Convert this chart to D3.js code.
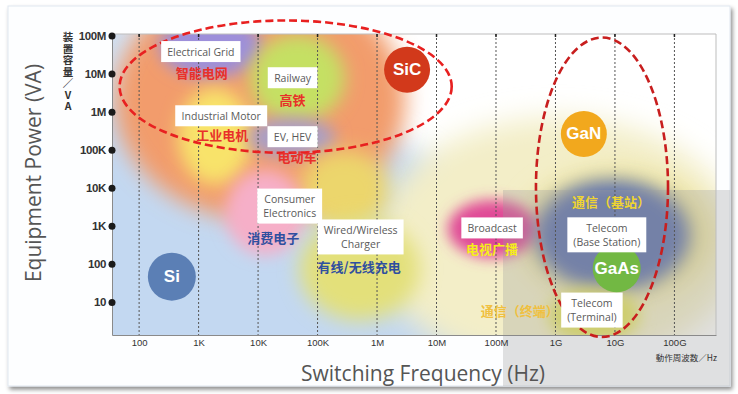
<!DOCTYPE html>
<html>
<head>
<meta charset="utf-8">
<script src="https://cdn.jsdelivr.net/npm/d3@7"></script>
<style>
  body { margin: 0; background: #ffffff; }
  svg { display: block; font-family: "Open Sans", "Noto Sans", sans-serif; }
</style>
</head>
<body>
<svg id="chart" width="738" height="394"></svg>
<script>
"use strict"

// axis ticks
var freqTicks = [1e2, 1e3, 1e4, 1e5, 1e6, 1e7, 1e8, 1e9, 1e10, 1e11];
var freqLabels = ["100", "1K", "10K", "100K", "1M", "10M", "100M", "1G", "10G", "100G"];
var powerTicks = [1e1, 1e2, 1e3, 1e4, 1e5, 1e6, 1e7, 1e8];
var powerLabels = ["10", "100", "1K", "10K", "100K", "1M", "10M", "100M"];

// application areas: [low, high] of frequency (Hz) and of power (VA)
var areaNames = ["Si", "Pale", "BaseHalo", "SiC", "Grid", "Motor", "Railway", "EV", "Drive", "Consumer", "Charger", "Broadcast", "Base", "Terminal"];
var areaFreq = [[0.01, 2e8], [9.2e5, 1.3e12], [2.5e8, 4.3e11], [39, 3e6], [220, 1.16e4], [450, 7.9e3], [7.3e3, 2.9e5], [6.7e3, 2e5], [5e4, 1.6e6], [2.8e3, 6.1e4], [5e4, 5.3e6], [1.55e7, 5e8], [4.5e8, 1.8e11], [7.5e8, 2.6e10]];
var areaPower = [[1e-5, 3e6], [0.16, 7e5], [11, 3e4], [1.4e3, 3e9], [7.8e6, 3.5e8], [1.2e4, 4.3e6], [5.4e5, 1.07e8], [6.1e4, 7e5], [780, 1e5], [170, 3e4], [3.3, 1.6e3], [144, 4.8e3], [20, 1.6e4], [0.88, 23]];

// device bubbles
var deviceNames = ["Si", "SiC", "GaN", "GaAs"];
var deviceFreq = [355, 3.2e6, 3e9, 1.07e10];
var devicePower = [46, 1.26e7, 2.6e5, 76];

// circled groups (dashed ellipses)
var groupFreq = [[47, 1.8e7], [4.7e8, 7.8e10]];
var groupPower = [[8.3e4, 2.5e8], [1.2, 8.9e7]];

// application labels
var labelText = [["Electrical Grid"], ["Railway"], ["Industrial Motor"], ["EV, HEV"], ["Consumer", "Electronics"], ["Wired/Wireless", "Charger"], ["Broadcast"], ["Telecom", "(Base Station)"], ["Telecom", "(Terminal)"]];
var labelFreq = [1090, 3.8e4, 2.4e3, 3.8e4, 3.4e4, 5.3e5, 8.6e7, 7.3e9, 4.1e9];
var labelPower = [3.8e7, 7.8e6, 7.8e5, 2.2e5, 3.3e3, 510, 880, 580, 6.1];
var zhText = ["智能电网", "高铁", "工业电机", "电动车", "消费电子", "有线/无线充电", "电视广播", "通信（基站）", "通信（终端）"];
var zhFreq = [1130, 3.8e4, 2.5e3, 4.5e4, 1.8e4, 5e5, 8.6e7, 8.6e9, 2.5e8];
var zhPower = [1.1e7, 2.1e6, 2.5e5, 6.5e4, 480, 83, 250, 4.3e3, 6.1];

// styles
var areaColor = {
  Si: "#c3d8f1", Pale: "#f3eec8", BaseHalo: "#ede39a", SiC: "#f29c6c", Grid: "#9d8fda",
  Motor: "#f8e36a", Railway: "#c5e064", EV: "#a99fc6", Drive: "#ecd66c", Consumer: "#f6afc8",
  Charger: "#e3e07a", Broadcast: "#e04a96", Base: "#6476ad", Terminal: "#e3e35a"
};
var areaBlur = { Si: 14, Pale: 14, BaseHalo: 12, SiC: 11, Grid: 8, Motor: 9, Railway: 9, EV: 8, Drive: 10,
  Consumer: 8, Charger: 10, Broadcast: 7, Base: 9, Terminal: 8 };
var deviceColor = { Si: "#5b7fb5", SiC: "#d2391b", GaN: "#f2a81d", GaAs: "#72b843" };
var zhColor = ["#e8302a", "#e8302a", "#e8302a", "#e8302a", "#2f4f9f", "#2f4f9f", "#f5ee1a", "#f0d530", "#f0c040"];
var groupColor = ["#e82020", "#c81e1e"];

var plot = { left: 112, top: 34, right: 716, bottom: 335 };

var svg = d3.select("#chart");
var defs = svg.append("defs");

[7, 8, 9, 10, 11, 12, 14].forEach(function(s) {
  defs.append("filter").attr("id", "blur" + s)
    .attr("x", "-60%").attr("y", "-60%").attr("width", "220%").attr("height", "220%")
    .append("feGaussianBlur").attr("stdDeviation", s);
});

var shadow = defs.append("filter").attr("id", "shadow")
  .attr("x", "-5%").attr("y", "-5%").attr("width", "110%").attr("height", "115%");
shadow.append("feDropShadow").attr("dx", 2).attr("dy", 3).attr("stdDeviation", 2)
  .attr("flood-color", "#000").attr("flood-opacity", 0.45);

defs.append("clipPath").attr("id", "plotClip").append("rect")
  .attr("x", plot.left).attr("y", plot.top)
  .attr("width", plot.right - plot.left).attr("height", plot.bottom - plot.top);

var bgGrad = defs.append("linearGradient").attr("id", "bgGrad")
  .attr("x1", "0%").attr("x2", "100%").attr("y1", "0%").attr("y2", "0%");
bgGrad.append("stop").attr("offset", "0%").attr("stop-color", "#cfe0f3");
bgGrad.append("stop").attr("offset", "25%").attr("stop-color", "#eaf2fb");
bgGrad.append("stop").attr("offset", "45%").attr("stop-color", "#ffffff");

// card
svg.append("rect").attr("x", 8).attr("y", 6).attr("width", 722).attr("height", 380)
  .attr("fill", "#fdfeff").attr("stroke", "#dfe7ef").attr("filter", "url(#shadow)");

var x = d3.scaleLog().domain([35, 5e11]).range([plot.left, plot.right]);
var y = d3.scaleLog().domain([1.35, 1.1e8]).range([plot.bottom, plot.top]);

// plot background + blurred areas
var areaLayer = svg.append("g").attr("clip-path", "url(#plotClip)");
areaLayer.append("rect")
  .attr("x", plot.left).attr("y", plot.top)
  .attr("width", plot.right - plot.left).attr("height", plot.bottom - plot.top)
  .attr("fill", "url(#bgGrad)");

areaLayer.selectAll("ellipse")
  .data(areaNames)
  .join("ellipse")
  .attr("cx", function(d, i) { return (x(areaFreq[i][0]) + x(areaFreq[i][1])) / 2; })
  .attr("cy", function(d, i) { return (y(areaPower[i][0]) + y(areaPower[i][1])) / 2; })
  .attr("rx", function(d, i) { return Math.abs(x(areaFreq[i][1]) - x(areaFreq[i][0])) / 2; })
  .attr("ry", function(d, i) { return Math.abs(y(areaPower[i][0]) - y(areaPower[i][1])) / 2; })
  .attr("fill", function(d) { return areaColor[d]; })
  .attr("filter", function(d) { return "url(#blur" + areaBlur[d] + ")"; });

// watermark panel
svg.append("rect").attr("x", 503).attr("y", 190).attr("width", 227).attr("height", 196)
  .attr("fill", "#9c9c9c").attr("opacity", 0.3);

// frame
svg.append("path")
  .attr("d", "M" + plot.left + "," + plot.top + "H" + plot.right + "V" + plot.bottom)
  .attr("fill", "none").attr("stroke", "#bdbdbd");

// grid lines
svg.append("g").selectAll("line")
  .data(freqTicks)
  .join("line")
  .attr("x1", function(d) { return x(d); }).attr("x2", function(d) { return x(d); })
  .attr("y1", plot.top).attr("y2", plot.bottom)
  .attr("stroke", "#555").attr("stroke-dasharray", "2,2");

svg.append("g").selectAll("line")
  .data(freqTicks)
  .join("line")
  .attr("x1", function(d) { return x(d); }).attr("x2", function(d) { return x(d); })
  .attr("y1", plot.top).attr("y2", plot.top + 3)
  .attr("stroke", "#222").attr("stroke-width", 1.5);

// axes
var xAxis = svg.append("g").attr("transform", "translate(0," + plot.bottom + ")")
  .call(d3.axisBottom(x).tickValues(freqTicks)
    .tickFormat(function(d, i) { return freqLabels[i]; })
    .tickSize(0).tickPadding(4));
xAxis.select(".domain").attr("stroke", "#8a8a8a");
xAxis.selectAll("text").attr("font-family", "'Liberation Sans', Arial, sans-serif")
  .attr("font-size", 9.5).attr("fill", "#333");

var yAxis = svg.append("g").attr("transform", "translate(" + plot.left + ",0)")
  .call(d3.axisLeft(y).tickValues(powerTicks)
    .tickFormat(function(d, i) { return powerLabels[i]; })
    .tickSize(0).tickPadding(6));
yAxis.select(".domain").attr("stroke", "#8a8a8a");
yAxis.selectAll("text").attr("font-family", "'Liberation Sans', Arial, sans-serif")
  .attr("font-size", 11.5).attr("font-weight", "bold").attr("fill", "#333")
  .attr("letter-spacing", -0.4);
yAxis.selectAll(".tick").append("circle").attr("r", 3.5).attr("fill", "#1a1a1a");

// axis titles
svg.append("text").attr("x", 423).attr("y", 373)
  .attr("text-anchor", "middle").attr("dominant-baseline", "central")
  .attr("font-size", 21).attr("fill", "#555")
  .text("Switching Frequency (Hz)");

svg.append("text").attr("transform", "translate(33,173) rotate(-90)")
  .attr("text-anchor", "middle").attr("dominant-baseline", "central")
  .attr("font-size", 21).attr("fill", "#555")
  .text("Equipment Power (VA)");

svg.append("text").attr("x", 717).attr("y", 357)
  .attr("text-anchor", "end").attr("dominant-baseline", "central")
  .attr("font-family", "'Noto Sans CJK JP', sans-serif")
  .attr("font-size", 8.5).attr("fill", "#333")
  .text("動作周波数／Hz");

// vertical japanese unit label
svg.append("text")
  .attr("x", 68).attr("y", 32)
  .attr("style", "writing-mode: vertical-rl; text-orientation: upright;")
  .attr("font-family", "'Noto Sans CJK JP', sans-serif")
  .attr("font-size", 10.5).attr("font-weight", "bold").attr("fill", "#333")
  .attr("letter-spacing", 1)
  .text("装置容量／VA");

// dashed group ellipses
svg.append("g").selectAll("ellipse")
  .data(groupFreq)
  .join("ellipse")
  .attr("cx", function(d) { return (x(d[0]) + x(d[1])) / 2; })
  .attr("cy", function(d, i) { return (y(groupPower[i][0]) + y(groupPower[i][1])) / 2; })
  .attr("rx", function(d) { return (x(d[1]) - x(d[0])) / 2; })
  .attr("ry", function(d, i) { return (y(groupPower[i][0]) - y(groupPower[i][1])) / 2; })
  .attr("fill", "none")
  .attr("stroke", function(d, i) { return groupColor[i]; })
  .attr("stroke-width", 2.6).attr("stroke-dasharray", "8,4");

// device bubbles
var bubbles = svg.append("g").selectAll("g")
  .data(deviceNames)
  .join("g")
  .attr("transform", function(d, i) {
    return "translate(" + x(deviceFreq[i]) + "," + y(devicePower[i]) + ")";
  });
bubbles.append("circle")
  .attr("r", function(d) { return d === "GaN" || d === "SiC" ? 23 : 24; })
  .attr("fill", function(d) { return deviceColor[d]; });
bubbles.append("text")
  .attr("text-anchor", "middle").attr("dominant-baseline", "central")
  .attr("font-family", "'Liberation Sans', Arial, sans-serif")
  .attr("font-size", 17).attr("font-weight", "bold").attr("fill", "#fff")
  .text(function(d) { return d; });

// english labels in white boxes
var lineH = 14;
var labels = svg.append("g").selectAll("g")
  .data(labelText)
  .join("g")
  .attr("transform", function(d, i) {
    return "translate(" + x(labelFreq[i]) + "," + y(labelPower[i]) + ")";
  });
labels.each(function(lines) {
  var g = d3.select(this);
  var box = g.append("rect").attr("fill", "#fff");
  var t = g.selectAll("text")
    .data(lines)
    .join("text")
    .attr("text-anchor", "middle").attr("dominant-baseline", "central")
    .attr("font-size", 10.5).attr("fill", "#5a5a5a")
    .attr("y", function(d, j) { return (j - (lines.length - 1) / 2) * lineH; })
    .text(function(d) { return d; });
  var w = d3.max(t.nodes(), function(n) { return n.getBBox().width; }) + 12;
  var h = lines.length * lineH + 7;
  box.attr("x", -w / 2).attr("y", -h / 2).attr("width", w).attr("height", h);
});

// chinese labels
svg.append("g").selectAll("text")
  .data(zhText)
  .join("text")
  .attr("x", function(d, i) { return x(zhFreq[i]); })
  .attr("y", function(d, i) { return y(zhPower[i]); })
  .attr("text-anchor", "middle").attr("dominant-baseline", "central")
  .attr("font-family", "'Noto Sans CJK SC', sans-serif")
  .attr("font-size", 13).attr("font-weight", "bold")
  .attr("fill", function(d, i) { return zhColor[i]; })
  .text(function(d) { return d; });
</script>
</body>
</html>
